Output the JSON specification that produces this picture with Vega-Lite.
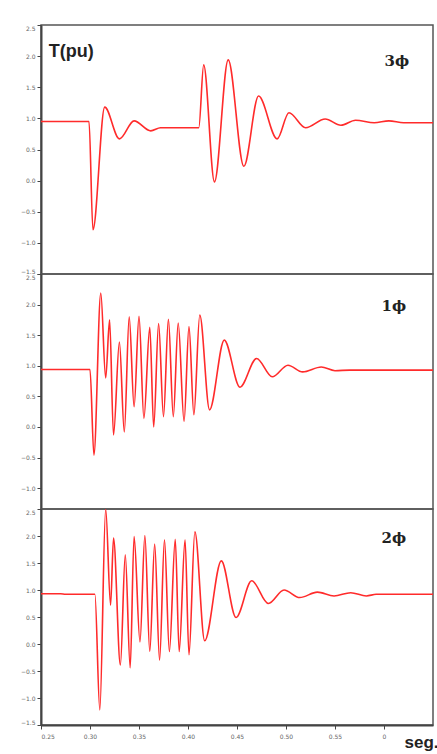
{
  "$schema": "https://vega.github.io/schema/vega-lite/v6.json",
  "background": "white",
  "padding": {"top": 23, "left": 8, "right": 5, "bottom": 0},
  "spacing": 0,
  "bounds": "flush",
  "config": {
    "view": {"stroke": "#555", "strokeWidth": 1.5},
    "axis": {"grid": false, "domainColor": "#444", "domainWidth": 2, "tickColor": "#444", "tickSize": 4, "labelFontSize": 6, "labelColor": "#666", "labelFont": "DejaVu Sans", "labelOverlap": false, "labelSeparation": 0},
    "axisY": {"labelOverlap": false, "labelBound": false, "labelFlush": true},
    "axisQuantitative": {"labelOverlap": false},
    "concat": {"spacing": 0}
  },
  "datasets": {
    "p1": [
      {"t": 0.25, "v": 0.95}, {"t": 0.299, "v": 0.95}, {"t": 0.303, "v": -0.79}, {"t": 0.315, "v": 1.18},
      {"t": 0.33, "v": 0.67}, {"t": 0.345, "v": 0.96}, {"t": 0.362, "v": 0.8}, {"t": 0.372, "v": 0.85},
      {"t": 0.411, "v": 0.85}, {"t": 0.416, "v": 1.86}, {"t": 0.427, "v": -0.02}, {"t": 0.441, "v": 1.94},
      {"t": 0.457, "v": 0.23}, {"t": 0.472, "v": 1.36}, {"t": 0.491, "v": 0.67}, {"t": 0.503, "v": 1.09},
      {"t": 0.52, "v": 0.85}, {"t": 0.54, "v": 0.99}, {"t": 0.556, "v": 0.89}, {"t": 0.571, "v": 0.97},
      {"t": 0.59, "v": 0.93}, {"t": 0.605, "v": 0.96}, {"t": 0.62, "v": 0.93}, {"t": 0.65, "v": 0.93}
    ],
    "p2": [
      {"t": 0.25, "v": 0.94}, {"t": 0.3, "v": 0.94}, {"t": 0.304, "v": -0.46}, {"t": 0.311, "v": 2.19},
      {"t": 0.316, "v": 0.8}, {"t": 0.32, "v": 1.75}, {"t": 0.324, "v": -0.13}, {"t": 0.33, "v": 1.39},
      {"t": 0.335, "v": -0.08}, {"t": 0.34, "v": 1.8}, {"t": 0.345, "v": 0.33}, {"t": 0.35, "v": 1.81},
      {"t": 0.355, "v": 0.14}, {"t": 0.361, "v": 1.63}, {"t": 0.365, "v": 0.0}, {"t": 0.37, "v": 1.69},
      {"t": 0.375, "v": 0.17}, {"t": 0.38, "v": 1.76}, {"t": 0.385, "v": 0.17}, {"t": 0.39, "v": 1.7},
      {"t": 0.396, "v": 0.09}, {"t": 0.401, "v": 1.64}, {"t": 0.406, "v": 0.2}, {"t": 0.412, "v": 1.83},
      {"t": 0.422, "v": 0.28}, {"t": 0.437, "v": 1.42}, {"t": 0.453, "v": 0.65}, {"t": 0.47, "v": 1.12},
      {"t": 0.486, "v": 0.82}, {"t": 0.502, "v": 1.01}, {"t": 0.517, "v": 0.9}, {"t": 0.536, "v": 0.98},
      {"t": 0.55, "v": 0.92}, {"t": 0.565, "v": 0.93}, {"t": 0.65, "v": 0.93}
    ],
    "p3": [
      {"t": 0.25, "v": 0.93}, {"t": 0.27, "v": 0.93}, {"t": 0.275, "v": 0.92}, {"t": 0.305, "v": 0.92},
      {"t": 0.31, "v": -1.22}, {"t": 0.316, "v": 2.5}, {"t": 0.321, "v": 0.72}, {"t": 0.324, "v": 1.96},
      {"t": 0.331, "v": -0.39}, {"t": 0.336, "v": 1.65}, {"t": 0.341, "v": -0.44}, {"t": 0.345, "v": 1.99},
      {"t": 0.351, "v": 0.04}, {"t": 0.356, "v": 2.01}, {"t": 0.361, "v": -0.14}, {"t": 0.366, "v": 1.85},
      {"t": 0.371, "v": -0.3}, {"t": 0.376, "v": 1.93}, {"t": 0.381, "v": -0.14}, {"t": 0.387, "v": 1.94},
      {"t": 0.391, "v": -0.14}, {"t": 0.397, "v": 1.93}, {"t": 0.401, "v": -0.2}, {"t": 0.407, "v": 2.08},
      {"t": 0.417, "v": 0.06}, {"t": 0.434, "v": 1.54}, {"t": 0.449, "v": 0.49}, {"t": 0.465, "v": 1.17},
      {"t": 0.482, "v": 0.75}, {"t": 0.498, "v": 1.0}, {"t": 0.514, "v": 0.86}, {"t": 0.532, "v": 0.96},
      {"t": 0.549, "v": 0.89}, {"t": 0.566, "v": 0.95}, {"t": 0.582, "v": 0.89}, {"t": 0.592, "v": 0.92},
      {"t": 0.65, "v": 0.92}
    ]
  },
  "vconcat": [
    {
      "width": 392,
      "height": 249,
      "layer": [
        {
          "data": {"name": "p1"},
          "mark": {"type": "line", "color": "#ff2b2b", "strokeWidth": 1.6, "interpolate": "monotone", "clip": true},
          "encoding": {
            "x": {"field": "t", "type": "quantitative", "scale": {"domain": [0.25, 0.65], "nice": false, "zero": false}, "axis": null},
            "y": {"field": "v", "type": "quantitative", "scale": {"domain": [-1.5, 2.5], "nice": false, "zero": false},
                  "axis": {"title": null, "tickCount": 8, "format": ".1f", "labelOverlap": false, "labelFlush": true, "minExtent": 32, "maxExtent": 32}}
          }
        },
        {
          "data": {"values": [{"t": 0.258, "v": 2.07, "label": "T(pu)"}]},
          "mark": {"type": "text", "align": "left", "baseline": "middle", "font": "Liberation Sans", "fontWeight": "bold", "fontSize": 18, "color": "#222"},
          "encoding": {"x": {"field": "t", "type": "quantitative"}, "y": {"field": "v", "type": "quantitative"}, "text": {"field": "label"}}
        },
        {
          "data": {"values": [{"t": 0.613, "v": 1.92, "label": "3ϕ"}]},
          "mark": {"type": "text", "align": "center", "baseline": "middle", "font": "DejaVu Serif", "fontWeight": "bold", "fontSize": 15, "color": "#222"},
          "encoding": {"x": {"field": "t", "type": "quantitative"}, "y": {"field": "v", "type": "quantitative"}, "text": {"field": "label"}}
        }
      ]
    },
    {
      "width": 392,
      "height": 235,
      "layer": [
        {
          "data": {"name": "p2"},
          "mark": {"type": "line", "color": "#ff2b2b", "strokeWidth": 1.6, "interpolate": "monotone", "clip": true},
          "encoding": {
            "x": {"field": "t", "type": "quantitative", "scale": {"domain": [0.25, 0.65], "nice": false, "zero": false}, "axis": null},
            "y": {"field": "v", "type": "quantitative", "scale": {"domain": [-1.34, 2.5], "nice": false, "zero": false},
                  "axis": {"title": null, "tickCount": 8, "format": ".1f", "labelOverlap": false, "labelFlush": true, "minExtent": 32, "maxExtent": 32}}
          }
        },
        {
          "data": {"values": [{"t": 0.61, "v": 1.97, "label": "1ϕ"}]},
          "mark": {"type": "text", "align": "center", "baseline": "middle", "font": "DejaVu Serif", "fontWeight": "bold", "fontSize": 15, "color": "#222"},
          "encoding": {"x": {"field": "t", "type": "quantitative"}, "y": {"field": "v", "type": "quantitative"}, "text": {"field": "label"}}
        }
      ]
    },
    {
      "width": 392,
      "height": 216,
      "layer": [
        {
          "data": {"name": "p3"},
          "mark": {"type": "line", "color": "#ff2b2b", "strokeWidth": 1.6, "interpolate": "monotone", "clip": true},
          "encoding": {
            "x": {"field": "t", "type": "quantitative", "scale": {"domain": [0.25, 0.65], "nice": false, "zero": false},
                  "axis": {"values": [0.25, 0.3, 0.35, 0.4, 0.45, 0.5, 0.55, 0.6], "labelExpr": "datum.value > 0.59 ? '0' : format(datum.value, '.2f')", "labelPadding": 4, "labelOverlap": false,
                           "title": "seg.", "titleFont": "Liberation Sans", "titleFontSize": 17, "titleFontWeight": "bold", "titleColor": "#222",
                           "titleAnchor": "end", "titleAlign": "right", "titleBaseline": "alphabetic", "titleX": 397, "titleY": 22}},
            "y": {"field": "v", "type": "quantitative", "scale": {"domain": [-1.5, 2.5], "nice": false, "zero": false},
                  "axis": {"title": null, "tickCount": 8, "format": ".1f", "labelOverlap": false, "labelFlush": true, "minExtent": 32, "maxExtent": 32}}
          }
        },
        {
          "data": {"values": [{"t": 0.61, "v": 1.96, "label": "2ϕ"}]},
          "mark": {"type": "text", "align": "center", "baseline": "middle", "font": "DejaVu Serif", "fontWeight": "bold", "fontSize": 15, "color": "#222"},
          "encoding": {"x": {"field": "t", "type": "quantitative"}, "y": {"field": "v", "type": "quantitative"}, "text": {"field": "label"}}
        }
      ]
    }
  ]
}
